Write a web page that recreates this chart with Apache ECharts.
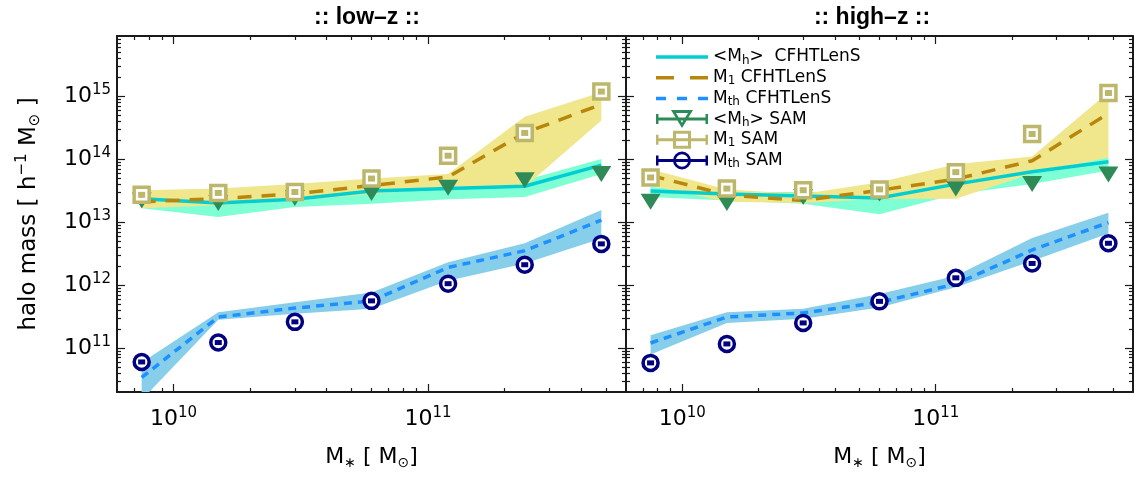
<!DOCTYPE html>
<html>
<head>
<meta charset="utf-8">
<script src="https://cdn.jsdelivr.net/npm/echarts@6/dist/echarts.min.js"></script>
<style>html,body{margin:0;padding:0;background:#fff}#c{width:1134px;height:478px}</style>
</head>
<body>
<div id="c"></div>
<script>
// ---------------- data ----------------
const stellarMass = [7.5e9, 1.5e10, 3e10, 6e10, 1.2e11, 2.4e11, 4.8e11];

// low-z : CFHTLenS curves (central value, lower and upper edge of band)
const lowMhCF    = [2.35e13, 2.0e13, 2.3e13, 3.1e13, 3.4e13, 3.7e13, 8.0e13];
const lowMhCFLo  = [1.65e13, 1.2e13, 1.74e13, 1.96e13, 2.3e13, 2.5e13, 5.8e13];
const lowMhCFHi  = [2.8e13, 2.2e13, 2.5e13, 3.6e13, 4.0e13, 4.6e13, 1.0e14];
const lowM1CF    = [2.1e13, 2.35e13, 2.8e13, 3.8e13, 5.2e13, 2.6e14, 7.4e14];
const lowM1CFLo  = [1.65e13, 1.85e13, 2.2e13, 2.8e13, 3.6e13, 3.6e13, 4.1e14];
const lowM1CFHi  = [3.2e13, 3.4e13, 4.0e13, 4.9e13, 5.8e13, 4.7e14, 1.15e15];
const lowMthCF   = [3.4e10, 3.1e11, 4.3e11, 5.6e11, 1.9e12, 3.5e12, 1.07e13];
const lowMthCFLo = [1.5e10, 2.8e11, 3.5e11, 4.2e11, 1.17e12, 2.2e12, 5.5e12];
const lowMthCFHi = [5.9e10, 3.7e11, 5.3e11, 7.6e11, 2.3e12, 4.6e12, 1.55e13];
// low-z : SAM points
const lowMhSAM   = [2.2e13, 2.0e13, 2.4e13, 2.9e13, 3.5e13, 4.6e13, 5.8e13];
const lowM1SAM   = [2.7e13, 2.9e13, 3.0e13, 4.9e13, 1.13e14, 2.6e14, 1.18e15];
const lowMthSAM  = [6.0e10, 1.22e11, 2.6e11, 5.6e11, 1.05e12, 2.1e12, 4.5e12];

// high-z : CFHTLenS curves
const highMhCF    = [3.1e13, 2.8e13, 2.6e13, 2.4e13, 4.0e13, 6.3e13, 9.1e13];
const highMhCFLo  = [2.5e13, 2.2e13, 1.96e13, 1.33e13, 2.75e13, 4.0e13, 6.6e13];
const highMhCFHi  = [3.6e13, 3.0e13, 3.0e13, 2.95e13, 4.8e13, 7.9e13, 1.06e14];
const highM1CF    = [5.5e13, 2.7e13, 2.2e13, 3.2e13, 4.8e13, 9.4e13, 5.3e14];
const highM1CFLo  = [3.8e13, 2.1e13, 2.0e13, 2.35e13, 2.35e13, 5.9e13, 1.06e14];
const highM1CFHi  = [6.9e13, 3.3e13, 2.8e13, 4.3e13, 8.3e13, 1.1e14, 1.15e15];
const highMthCF   = [1.2e11, 3.1e11, 3.6e11, 5.3e11, 1.04e12, 3.6e12, 9.8e12];
const highMthCFLo = [7.9e10, 2.5e11, 2.9e11, 4.4e11, 9.2e11, 2.4e12, 6.6e12];
const highMthCFHi = [1.59e11, 3.7e11, 4.2e11, 7.2e11, 1.4e12, 5.6e12, 1.4e13];
// high-z : SAM points
const highMhSAM   = [2.1e13, 2.0e13, 2.5e13, 2.85e13, 3.4e13, 4.0e13, 5.7e13];
const highM1SAM   = [5.1e13, 3.4e13, 3.2e13, 3.3e13, 6.2e13, 2.5e14, 1.12e15];
const highMthSAM  = [5.8e10, 1.16e11, 2.5e11, 5.5e11, 1.3e12, 2.2e12, 4.6e12];

// axis ranges and ticks
const xRange = [6e9, 6e11];
const yRange = [2e10, 9e15];
const xMajorTicks = [1e10, 1e11];
const xMinorTicks = [7e9, 8e9, 9e9, 2e10, 3e10, 4e10, 5e10, 6e10, 7e10, 8e10, 9e10,
                     2e11, 3e11, 4e11, 5e11];
const yMajorTicks = [1e11, 1e12, 1e13, 1e14, 1e15];
const yMinorTicks = [3e10, 4e10, 5e10, 6e10, 7e10, 8e10, 9e10,
                     2e11, 3e11, 4e11, 5e11, 6e11, 7e11, 8e11, 9e11,
                     2e12, 3e12, 4e12, 5e12, 6e12, 7e12, 8e12, 9e12,
                     2e13, 3e13, 4e13, 5e13, 6e13, 7e13, 8e13, 9e13,
                     2e14, 3e14, 4e14, 5e14, 6e14, 7e14, 8e14, 9e14,
                     2e15, 3e15, 4e15, 5e15, 6e15, 7e15, 8e15];

const panelTitles = [':: low–z ::', ':: high–z ::'];
const seriesNames = ['<Mh>  CFHTLenS', 'M1 CFHTLenS', 'Mth CFHTLenS', '<Mh> SAM', 'M1 SAM', 'Mth SAM'];
const legendLabels = {
  '<Mh>  CFHTLenS': '{n|<M}{s|h}{n|>  CFHTLenS}',
  'M1 CFHTLenS': '{n|M}{s|1}{n| CFHTLenS}',
  'Mth CFHTLenS': '{n|M}{s|th}{n| CFHTLenS}',
  '<Mh> SAM': '{n|<M}{s|h}{n|> SAM}',
  'M1 SAM': '{n|M}{s|1}{n| SAM}',
  'Mth SAM': '{n|M}{s|th}{n| SAM}'
};

// ---------------- styling ----------------
const FONT = 'DejaVu Sans';
const C = {
  cyan: '#00CED1', aqua: '#7FFFD4', brown: '#B8860B', khakiBand: '#F0E68C',
  blue: '#1E90FF', sky: '#87CEEB', green: '#2E8B57', khaki: '#BDB76B', navy: '#000080',
  axis: '#1a1a1a'
};
const L = Math.log10;

const grids = [
  {left: 117, top: 36, width: 509, height: 356, outerBoundsMode: 'none'},
  {left: 626, top: 36, width: 507, height: 356, outerBoundsMode: 'none'}
];

const supRich = {
  b: {fontFamily: FONT, fontSize: 22, color: '#000', lineHeight: 26, verticalAlign: 'middle'},
  s: {fontFamily: FONT, fontSize: 15, color: '#000', lineHeight: 12, verticalAlign: 'top'}
};
const expFormatter = v => '{b|10}{s|' + Math.round(v) + '}';

function xAxes(gi) {
  const base = {type: 'value', gridIndex: gi, min: L(xRange[0]), max: L(xRange[1]),
    splitLine: {show: false}};
  return [
    Object.assign({}, base, {position: 'bottom',
      axisLine: {show: true, lineStyle: {color: C.axis, width: 2}},
      axisTick: {show: true, inside: true, length: 8, lineStyle: {color: C.axis, width: 1.2},
                 customValues: xMajorTicks.map(L)},
      axisLabel: {show: true, margin: 14, customValues: xMajorTicks.map(L), formatter: expFormatter,
                  rich: supRich},
      name: '{n|M}{s|∗}{n| [ M}{s|⊙}{n|]}', nameLocation: 'middle', nameGap: 52,
      nameTextStyle: {rich: {
        n: {fontFamily: FONT, fontSize: 22, color: '#000', lineHeight: 26},
        s: {fontFamily: FONT, fontSize: 14, color: '#000', lineHeight: 12, verticalAlign: 'bottom'}
      }}}),
    Object.assign({}, base, {position: 'bottom',
      axisLine: {show: false},
      axisTick: {show: true, inside: true, length: 4, lineStyle: {color: C.axis, width: 1.2},
                 customValues: xMinorTicks.map(L)},
      axisLabel: {show: false}}),
    Object.assign({}, base, {position: 'top',
      axisLine: {show: true, lineStyle: {color: C.axis, width: 2}},
      axisTick: {show: true, inside: true, length: 8, lineStyle: {color: C.axis, width: 1.2},
                 customValues: xMajorTicks.map(L)},
      axisLabel: {show: false}}),
    Object.assign({}, base, {position: 'top',
      axisLine: {show: false},
      axisTick: {show: true, inside: true, length: 4, lineStyle: {color: C.axis, width: 1.2},
                 customValues: xMinorTicks.map(L)},
      axisLabel: {show: false}})
  ];
}

function yAxes(gi, withLabels) {
  const base = {type: 'value', gridIndex: gi, min: L(yRange[0]), max: L(yRange[1]),
    splitLine: {show: false}};
  const major = Object.assign({}, base, {position: 'left',
    axisLine: {show: true, lineStyle: {color: C.axis, width: 2}},
    axisTick: {show: true, inside: true, length: 8, lineStyle: {color: C.axis, width: 1.2},
               customValues: yMajorTicks.map(L)},
    axisLabel: {show: withLabels, margin: 6, customValues: yMajorTicks.map(L), formatter: expFormatter,
                rich: supRich}});
  if (withLabels) {
    Object.assign(major, {
      name: '{n|halo mass [ h}{p|−1}{n| M}{s|⊙}{n| ]}', nameLocation: 'middle', nameGap: 74,
      nameRotate: 90,
      nameTextStyle: {rich: {
        n: {fontFamily: FONT, fontSize: 23, color: '#000', lineHeight: 28},
        p: {fontFamily: FONT, fontSize: 15, color: '#000', lineHeight: 12, verticalAlign: 'top'},
        s: {fontFamily: FONT, fontSize: 15, color: '#000', lineHeight: 12, verticalAlign: 'bottom'}
      }}
    });
  }
  return [
    major,
    Object.assign({}, base, {position: 'left', axisLine: {show: false},
      axisTick: {show: true, inside: true, length: 4, lineStyle: {color: C.axis, width: 1.2},
                 customValues: yMinorTicks.map(L)},
      axisLabel: {show: false}}),
    Object.assign({}, base, {position: 'right',
      axisLine: {show: true, lineStyle: {color: C.axis, width: 2}},
      axisTick: {show: true, inside: true, length: 8, lineStyle: {color: C.axis, width: 1.2},
                 customValues: yMajorTicks.map(L)},
      axisLabel: {show: false}}),
    Object.assign({}, base, {position: 'right', axisLine: {show: false},
      axisTick: {show: true, inside: true, length: 4, lineStyle: {color: C.axis, width: 1.2},
                 customValues: yMinorTicks.map(L)},
      axisLabel: {show: false}})
  ];
}

function band(ai, lo, hi, color) {
  const pts = stellarMass.map((x, i) => [L(x), L(lo[i]), L(hi[i])]);
  return {
    type: 'custom', xAxisIndex: ai, yAxisIndex: ai, clip: true, silent: true, z: 1,
    data: pts, encode: {x: 0, y: [1, 2]},
    renderItem: (params, api) => {
      if (params.dataIndex !== 0) return null;
      const upper = pts.map(p => api.coord([p[0], p[2]]));
      const lower = pts.map(p => api.coord([p[0], p[1]])).reverse();
      return {type: 'polygon', shape: {points: upper.concat(lower)}, style: {fill: color}};
    }
  };
}
function curve(ai, name, ys, color, dash) {
  return {
    type: 'line', name: name, xAxisIndex: ai, yAxisIndex: ai, z: 2, silent: true,
    symbol: 'none', showSymbol: false,
    data: stellarMass.map((x, i) => [L(x), L(ys[i])]),
    lineStyle: {color: color, width: 3.5, type: dash || 'solid', cap: 'butt'},
    itemStyle: {color: color}
  };
}
function points(ai, name, ys, opts, z) {
  return Object.assign({
    type: 'scatter', name: name, xAxisIndex: ai, yAxisIndex: ai, z: z, silent: true,
    data: stellarMass.map((x, i) => [L(x), L(ys[i])])
  }, opts);
}

function panelSeries(ai, d) {
  return [
    band(ai, d.mhLo, d.mhHi, C.aqua),
    band(ai, d.m1Lo, d.m1Hi, C.khakiBand),
    band(ai, d.mthLo, d.mthHi, C.sky),
    curve(ai, seriesNames[0], d.mh, C.cyan),
    curve(ai, seriesNames[1], d.m1, C.brown, [14, 10]),
    curve(ai, seriesNames[2], d.mth, C.blue, [8, 6]),
    points(ai, seriesNames[3], d.mhS, {symbol: 'triangle', symbolRotate: 180, symbolSize: [20, 16],
      itemStyle: {color: C.green, opacity: 1}}, 3),
    points(ai, seriesNames[4], d.m1S, {symbol: 'rect', symbolSize: 15,
      itemStyle: {color: '#fff', borderColor: C.khaki, borderWidth: 3.5, opacity: 1}}, 4),
    points(ai, '_m1in', d.m1S, {symbol: 'rect', symbolSize: [7, 6],
      itemStyle: {color: C.khaki, opacity: 1}}, 5),
    points(ai, seriesNames[5], d.mthS, {symbol: 'circle', symbolSize: 15,
      itemStyle: {color: '#fff', borderColor: C.navy, borderWidth: 3.5, opacity: 1}}, 6),
    points(ai, '_mthin', d.mthS, {symbol: 'rect', symbolSize: [7, 5],
      itemStyle: {color: C.navy, opacity: 1}}, 7)
  ];
}

const lowData = {mh: lowMhCF, mhLo: lowMhCFLo, mhHi: lowMhCFHi, m1: lowM1CF, m1Lo: lowM1CFLo, m1Hi: lowM1CFHi,
  mth: lowMthCF, mthLo: lowMthCFLo, mthHi: lowMthCFHi, mhS: lowMhSAM, m1S: lowM1SAM, mthS: lowMthSAM};
const highData = {mh: highMhCF, mhLo: highMhCFLo, mhHi: highMhCFHi, m1: highM1CF, m1Lo: highM1CFLo, m1Hi: highM1CFHi,
  mth: highMthCF, mthLo: highMthCFLo, mthHi: highMthCFHi, mhS: highMhSAM, m1S: highM1SAM, mthS: highMthSAM};

// legend icons: line samples and error-bar samples (52 x 18 boxes)
const boxPts = 'M0,0 L0.01,0 M0,18 L0.01,18 ';
const iconSolid = 'path://' + boxPts + 'M0,7.25 H52 V10.75 H0 Z';
const iconLongDash = 'path://' + boxPts + 'M0,7.25 H18 V10.75 H0 Z M34,7.25 H52 V10.75 H34 Z';
const iconShortDash = 'path://' + boxPts + 'M0,7.25 H10 V10.75 H0 Z M21,7.25 H31 V10.75 H21 Z M42,7.25 H52 V10.75 H42 Z';
const barPath = 'M0,7.5 H52 V10.5 H0 Z M0,4 H2.5 V14 H0 Z M49.5,4 H52 V14 H49.5 Z ';
const iconTri = 'path://' + barPath + 'M15,0 L37,0 L26,18 Z M19.99,2.8 L26,12.63 L32.01,2.8 Z';
const iconSq = 'path://' + barPath + 'M17,0 H35 V18 H17 Z M20,3 V15 H32 V3 Z';
const iconCirc = 'path://' + barPath +
  'M35,9 A9,9 0 1,1 17,9 A9,9 0 1,1 35,9 Z M32.2,9 A6.2,6.2 0 1,0 19.8,9 A6.2,6.2 0 1,0 32.2,9 Z';

const xAxisAll = [].concat(xAxes(0), xAxes(1));
const yAxisAll = [].concat(yAxes(0, true), yAxes(1, false));
// series for panel 0 use axis index 0, panel 1 use axis index 4
const series = [].concat(panelSeries(0, lowData), panelSeries(4, highData));

const option = {
  animation: false,
  backgroundColor: '#fff',
  grid: grids,
  xAxis: xAxisAll,
  yAxis: yAxisAll,
  legend: {
    orient: 'vertical', left: 651, top: 43, itemWidth: 52, itemHeight: 18, itemGap: 2.2,
    selectedMode: false,
    data: [
      {name: seriesNames[0], icon: iconSolid, itemStyle: {color: C.cyan, borderWidth: 0}},
      {name: seriesNames[1], icon: iconLongDash, itemStyle: {color: C.brown, borderWidth: 0}},
      {name: seriesNames[2], icon: iconShortDash, itemStyle: {color: C.blue, borderWidth: 0}},
      {name: seriesNames[3], icon: iconTri, itemStyle: {color: C.green, borderWidth: 0}},
      {name: seriesNames[4], icon: iconSq, itemStyle: {color: C.khaki, borderWidth: 0}},
      {name: seriesNames[5], icon: iconCirc, itemStyle: {color: C.navy, borderWidth: 0}}
    ],
    formatter: name => legendLabels[name],
    textStyle: {color: '#000', fontFamily: FONT, fontSize: 17, rich: {
      n: {fontFamily: FONT, fontSize: 17, color: '#000', lineHeight: 19},
      s: {fontFamily: FONT, fontSize: 12, color: '#000', lineHeight: 10, verticalAlign: 'bottom'}
    }}
  },
  graphic: [
    {type: 'text', x: 367, y: 18, style: {text: panelTitles[0], fill: '#000', align: 'center',
      verticalAlign: 'middle', font: 'bold 23px "Liberation Sans"'}},
    {type: 'text', x: 872, y: 18, style: {text: panelTitles[1], fill: '#000', align: 'center',
      verticalAlign: 'middle', font: 'bold 23px "Liberation Sans"'}}
  ],
  series: series
};

const chart = echarts.init(document.getElementById('c'), null, {renderer: 'canvas'});
chart.setOption(option);
</script>
</body>
</html>
